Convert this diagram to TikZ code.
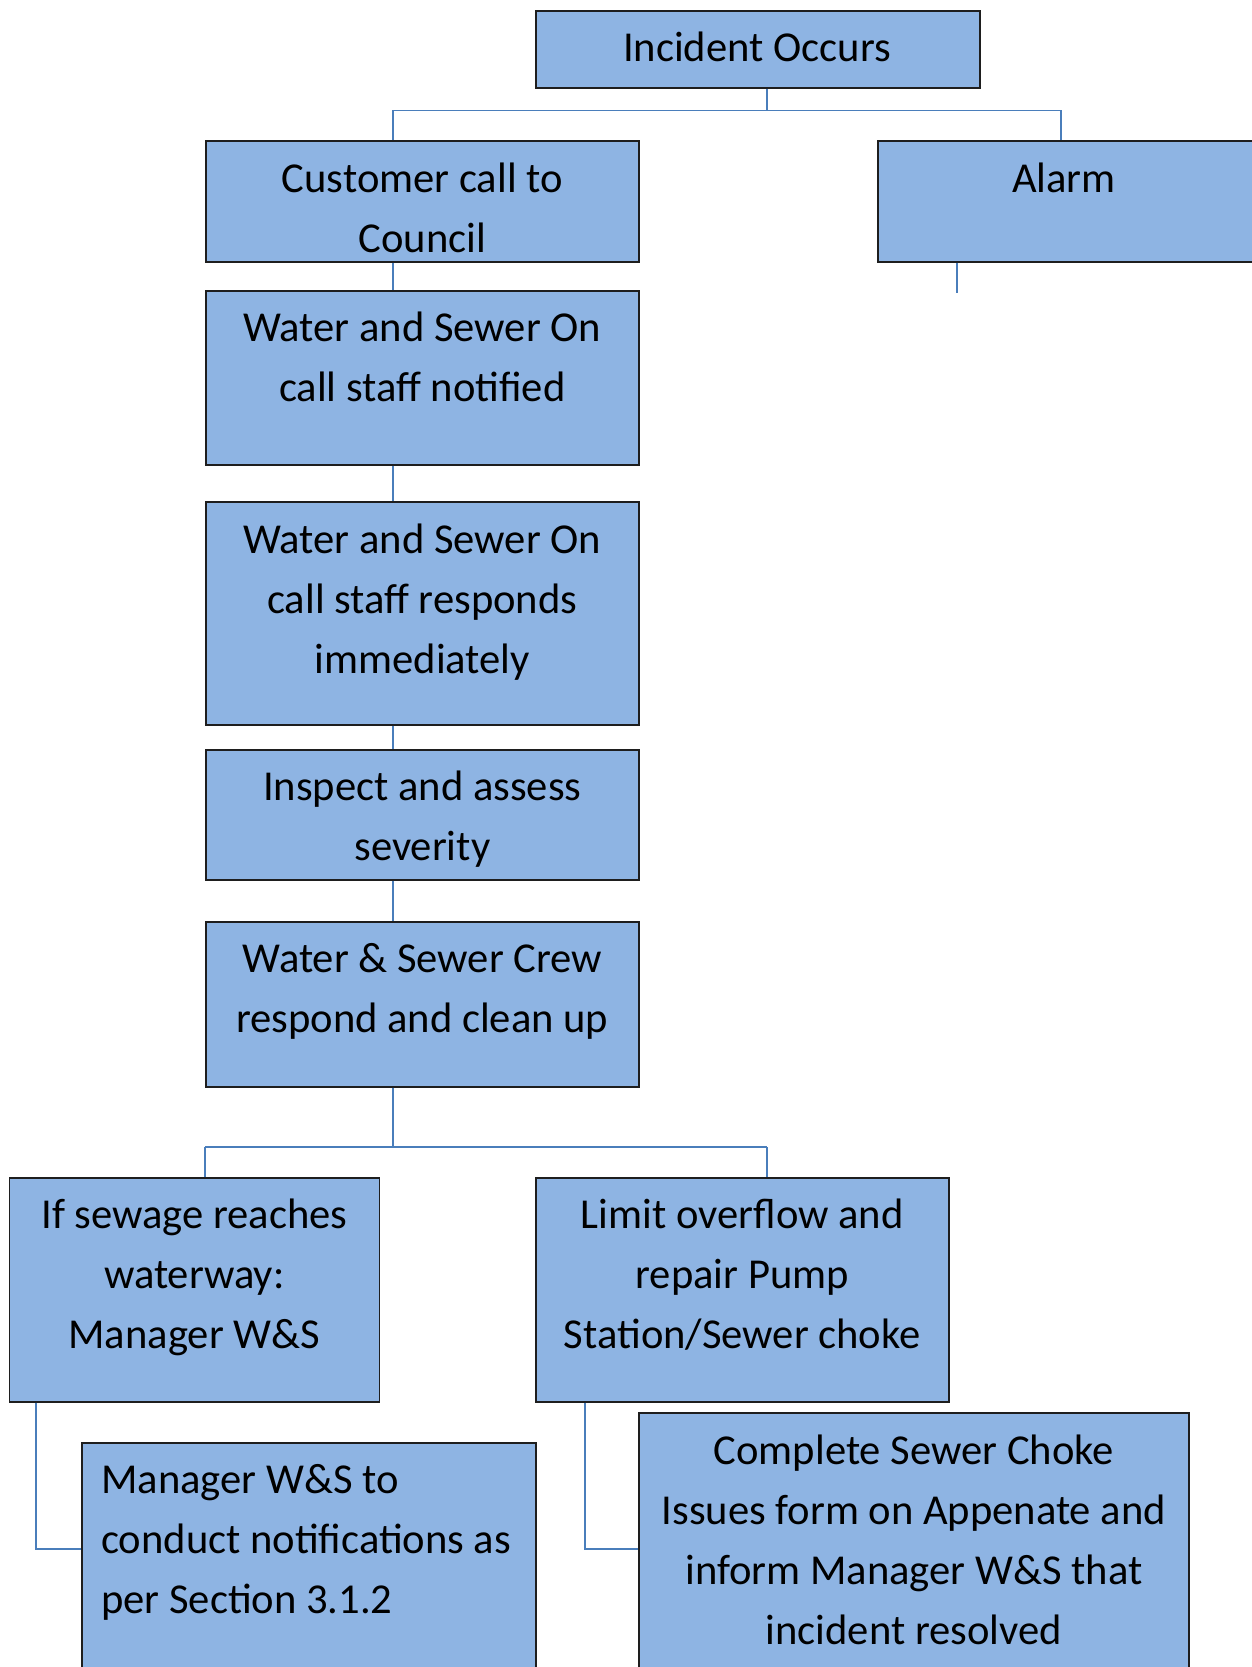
\documentclass[tikz,border=0pt]{standalone}
\usepackage{fontspec}
\setmainfont{Carlito}
\definecolor{boxfill}{RGB}{142,180,227}
\definecolor{connblue}{RGB}{74,126,187}
\definecolor{boxline}{RGB}{30,30,30}
\newcommand\ctext[1]{\parbox[t]{600pt}{\centering #1}}
\newcommand\ltext[1]{\parbox[t]{600pt}{\raggedright #1}}
\begin{document}
\begin{tikzpicture}[x=1pt,y=-1pt,
  box/.style={draw=boxline, line width=1.6pt, fill=boxfill, anchor=north west, inner sep=0pt},
  txt/.style={anchor=base, inner sep=0pt, font=\fontsize{42.6}{60}\selectfont},
  ltxt/.style={anchor=base west, inner sep=0pt, font=\fontsize{42.6}{60}\selectfont},
  conn/.style={draw=connblue, line width=1.6pt}]
\useasboundingbox (0,0) rectangle (1252,1667);
\clip (0,0) rectangle (1252,1667);
% boxes
\node[box, minimum width=444pt, minimum height=77pt] (inc) at (535,10) {};
\node[box, minimum width=433pt, minimum height=121pt] (cust) at (205,140) {};
\node[box, minimum width=380pt, minimum height=121pt] (alarm) at (877,140) {};
\node[box, minimum width=433pt, minimum height=174pt] (w1) at (205,290) {};
\node[box, minimum width=433pt, minimum height=223pt] (w2) at (205,501) {};
\node[box, minimum width=433pt, minimum height=130pt] (insp) at (205,749) {};
\node[box, minimum width=433pt, minimum height=165pt] (crew) at (205,921) {};
\node[box, minimum width=370pt, minimum height=224pt] (sew) at (8.5,1177) {};
\node[box, minimum width=413pt, minimum height=224pt] (lim) at (535,1177) {};
\node[box, minimum width=454pt, minimum height=240pt] (mgr) at (81,1442) {};
\node[box, minimum width=550pt, minimum height=270pt] (cmp) at (638,1412) {};
% texts
\node[txt] (tinc) at (757,62) {\ctext{Incident Occurs}};
\node[txt] (tcust) at ([yshift=-52pt]cust.north) {\ctext{Customer call to\\Council}};
\node[txt] (talarm) at (1064,192) {\ctext{Alarm}};
\node[txt] (tw1) at ([yshift=-51pt]w1.north) {\ctext{Water and Sewer On\\call staff notified}};
\node[txt] (tw2) at ([yshift=-52pt]w2.north) {\ctext{Water and Sewer On\\call staff responds\\immediately}};
\node[txt] (tinsp) at ([yshift=-51pt]insp.north) {\ctext{Inspect and assess\\severity}};
\node[txt] (tcrew) at ([yshift=-51pt]crew.north) {\ctext{Water \& Sewer Crew\\respond and clean up}};
\node[txt] (tsew) at ([yshift=-51pt]sew.north) {\ctext{If sewage reaches\\waterway:\\Manager W\&S}};
\node[txt] (tlim) at ([yshift=-51pt]lim.north) {\ctext{Limit overflow and\\repair Pump\\Station/Sewer choke}};
\node[ltxt] (tmgr) at (101,1493) {\ltext{Manager W\&S to\\conduct notifications as\\per Section 3.1.2}};
\node[txt] (tcmp) at ([yshift=-52pt]cmp.north) {\ctext{Complete Sewer Choke\\Issues form on Appenate and\\inform Manager W\&S that\\incident resolved}};
% connector coordinates
\coordinate (tl) at (393,110.5);
\coordinate (tm) at (767,110.5);
\coordinate (tr) at (1061,110.5);
\coordinate (sp) at (393,0);
\coordinate (astub) at (957,293);
\coordinate (bl) at (205,1147);
\coordinate (bm) at (393,1147);
\coordinate (br) at (767,1147);
\coordinate (e1) at (36,1549);
\coordinate (e2) at (585,1549);
% connectors
\draw[conn] (tm |- inc.south) -- (tm);
\draw[conn] (tl) -- (tr);
\draw[conn] (tl) -- (tl |- cust.north);
\draw[conn] (tr) -- (tr |- alarm.north);
\draw[conn] (astub |- alarm.south) -- (astub);
\draw[conn] (sp |- cust.south) -- (sp |- w1.north);
\draw[conn] (sp |- w1.south) -- (sp |- w2.north);
\draw[conn] (sp |- w2.south) -- (sp |- insp.north);
\draw[conn] (sp |- insp.south) -- (sp |- crew.north);
\draw[conn] (bm |- crew.south) -- (bm);
\draw[conn] (bl) -- (br);
\draw[conn] (bl) -- (bl |- sew.north);
\draw[conn] (br) -- (br |- lim.north);
\draw[conn] (e1 |- sew.south) -- (e1) -- (e1 -| mgr.west);
\draw[conn] (e2 |- lim.south) -- (e2) -- (e2 -| cmp.west);
\end{tikzpicture}
\end{document}
